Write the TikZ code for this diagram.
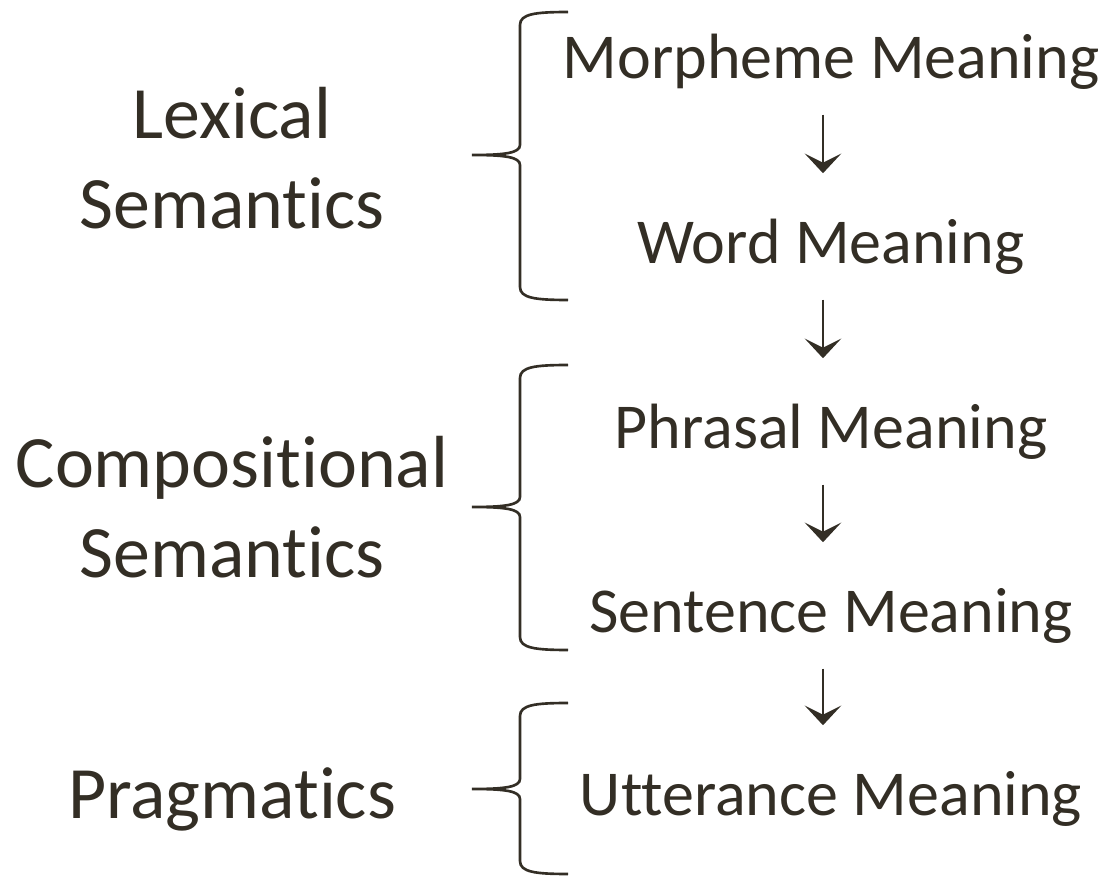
\documentclass[tikz,border=0pt]{standalone}
\usepackage{fontspec}
\setmainfont{Carlito}[Ligatures=CommonOff]
\usepackage{xcolor}
\usetikzlibrary{arrows.meta}
\definecolor{levelink}{HTML}{332E25}

%% brace: {top}{tip}{bottom}, in pixel units of the picture
\newcommand{\levelbrace}[3]{%
  \draw[levelink, line width=0.75pt]
    (568,#1) .. controls (535,#1) and (520,#1+2) .. (520,#1+13)
    -- (520,#2-10) .. controls (520,#2-2) and (505,#2) .. (472,#2)
    .. controls (505,#2) and (520,#2+2) .. (520,#2+10)
    -- (520,#3-13) .. controls (520,#3-2) and (535,#3) .. (568,#3);}

\begin{document}
\begin{tikzpicture}[x=0.01cm, y=-0.01cm,
                    every node/.style={levelink, inner sep=0pt},
                    stage/.style={anchor=base, text height=0.45cm, text depth=0.13cm,
                                  font=\fontsize{18.2}{21}\selectfont},
                    level/.style={anchor=base, align=center,
                                  font=\fontsize{21}{25.6}\selectfont},
                    flow/.style={levelink, line width=0.77pt,
                                 -{Stealth[length=5.6pt, width=10.4pt, inset=2.6pt]},
                                 shorten <=0.22cm, shorten >=0.45cm}]

  \useasboundingbox (0,0) rectangle (1105,879);

  %% 意義的層次
  \node[stage] (morph) at (831,79)  {Morpheme Meaning};
  \node[stage] (word)  at (831,264) {Word Meaning};
  \node[stage] (phr)   at (831,449) {Phrasal Meaning};
  \node[stage] (sent)  at (831,633) {Sentence Meaning};
  \node[stage] (utt)   at (831,816) {Utterance Meaning};

  %% 箭頭
  \draw[flow] ([xshift=-0.08cm]morph.south) -- ([xshift=-0.08cm]word.north);
  \draw[flow] ([xshift=-0.08cm]word.south)  -- ([xshift=-0.08cm]phr.north);
  \draw[flow] ([xshift=-0.08cm]phr.south)   -- ([xshift=-0.08cm]sent.north);
  \draw[flow] ([xshift=-0.08cm]sent.south)  -- ([xshift=-0.08cm]utt.north);

  %% 分支名稱
  \node[level] (lex)  at (232,229) {Lexical\\Semantics};
  \node[level] (comp) at (232,578) {Compositional\\Semantics};
  \node[level] (prag) at (232,818) {Pragmatics};

  %% 大括號
  \levelbrace{12}{155}{300}
  \levelbrace{365}{507}{650}
  \levelbrace{703}{789}{874}

\end{tikzpicture}
\end{document}
